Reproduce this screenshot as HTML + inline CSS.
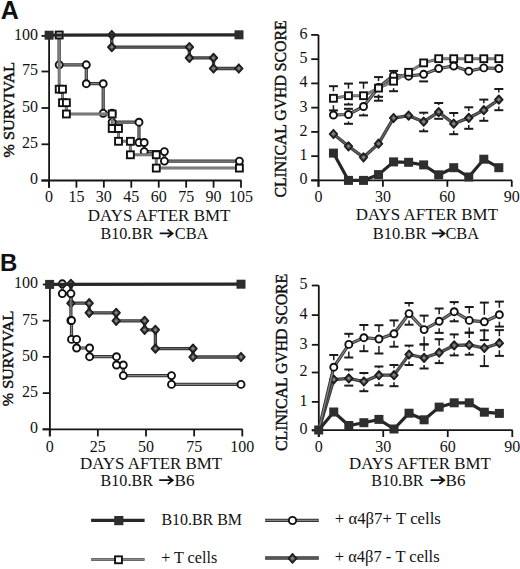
<!DOCTYPE html>
<html><head><meta charset="utf-8"><style>
html,body{margin:0;padding:0;background:#fff;}
svg{display:block;}
text{font-family:"Liberation Serif", serif;fill:#111;}
</style></head><body>
<svg width="520" height="569" viewBox="0 0 520 569">
<rect width="520" height="569" fill="#fff"/>
<line x1="49.10" y1="35.50" x2="49.10" y2="187.70" stroke="#151515" stroke-width="1.8" stroke-linecap="butt"/>
<line x1="41.50" y1="35.90" x2="49.10" y2="35.90" stroke="#151515" stroke-width="1.8" stroke-linecap="butt"/>
<line x1="41.50" y1="71.50" x2="49.10" y2="71.50" stroke="#151515" stroke-width="1.8" stroke-linecap="butt"/>
<line x1="41.50" y1="108.00" x2="49.10" y2="108.00" stroke="#151515" stroke-width="1.8" stroke-linecap="butt"/>
<line x1="41.50" y1="144.30" x2="49.10" y2="144.30" stroke="#151515" stroke-width="1.8" stroke-linecap="butt"/>
<line x1="41.50" y1="180.50" x2="49.10" y2="180.50" stroke="#151515" stroke-width="1.8" stroke-linecap="butt"/>
<line x1="41.50" y1="180.50" x2="241.50" y2="180.50" stroke="#151515" stroke-width="1.8" stroke-linecap="butt"/>
<line x1="49.00" y1="180.50" x2="49.00" y2="187.70" stroke="#151515" stroke-width="1.8" stroke-linecap="butt"/>
<line x1="76.43" y1="180.50" x2="76.43" y2="187.70" stroke="#151515" stroke-width="1.8" stroke-linecap="butt"/>
<line x1="103.86" y1="180.50" x2="103.86" y2="187.70" stroke="#151515" stroke-width="1.8" stroke-linecap="butt"/>
<line x1="131.29" y1="180.50" x2="131.29" y2="187.70" stroke="#151515" stroke-width="1.8" stroke-linecap="butt"/>
<line x1="158.72" y1="180.50" x2="158.72" y2="187.70" stroke="#151515" stroke-width="1.8" stroke-linecap="butt"/>
<line x1="186.15" y1="180.50" x2="186.15" y2="187.70" stroke="#151515" stroke-width="1.8" stroke-linecap="butt"/>
<line x1="213.58" y1="180.50" x2="213.58" y2="187.70" stroke="#151515" stroke-width="1.8" stroke-linecap="butt"/>
<line x1="241.01" y1="180.50" x2="241.01" y2="187.70" stroke="#151515" stroke-width="1.8" stroke-linecap="butt"/>
<line x1="318.50" y1="34.90" x2="318.50" y2="186.80" stroke="#151515" stroke-width="1.8" stroke-linecap="butt"/>
<line x1="311.20" y1="180.40" x2="318.50" y2="180.40" stroke="#151515" stroke-width="1.8" stroke-linecap="butt"/>
<line x1="311.20" y1="156.15" x2="318.50" y2="156.15" stroke="#151515" stroke-width="1.8" stroke-linecap="butt"/>
<line x1="311.20" y1="131.90" x2="318.50" y2="131.90" stroke="#151515" stroke-width="1.8" stroke-linecap="butt"/>
<line x1="311.20" y1="107.65" x2="318.50" y2="107.65" stroke="#151515" stroke-width="1.8" stroke-linecap="butt"/>
<line x1="311.20" y1="83.40" x2="318.50" y2="83.40" stroke="#151515" stroke-width="1.8" stroke-linecap="butt"/>
<line x1="311.20" y1="59.15" x2="318.50" y2="59.15" stroke="#151515" stroke-width="1.8" stroke-linecap="butt"/>
<line x1="311.20" y1="34.90" x2="318.50" y2="34.90" stroke="#151515" stroke-width="1.8" stroke-linecap="butt"/>
<line x1="311.20" y1="180.40" x2="512.00" y2="180.40" stroke="#151515" stroke-width="1.8" stroke-linecap="butt"/>
<line x1="318.50" y1="180.40" x2="318.50" y2="186.80" stroke="#151515" stroke-width="1.8" stroke-linecap="butt"/>
<line x1="382.93" y1="180.40" x2="382.93" y2="186.80" stroke="#151515" stroke-width="1.8" stroke-linecap="butt"/>
<line x1="447.36" y1="180.40" x2="447.36" y2="186.80" stroke="#151515" stroke-width="1.8" stroke-linecap="butt"/>
<line x1="511.79" y1="180.40" x2="511.79" y2="186.80" stroke="#151515" stroke-width="1.8" stroke-linecap="butt"/>
<line x1="49.90" y1="284.20" x2="49.90" y2="436.20" stroke="#151515" stroke-width="1.8" stroke-linecap="butt"/>
<line x1="42.80" y1="429.30" x2="49.90" y2="429.30" stroke="#151515" stroke-width="1.8" stroke-linecap="butt"/>
<line x1="42.80" y1="393.10" x2="49.90" y2="393.10" stroke="#151515" stroke-width="1.8" stroke-linecap="butt"/>
<line x1="42.80" y1="356.90" x2="49.90" y2="356.90" stroke="#151515" stroke-width="1.8" stroke-linecap="butt"/>
<line x1="42.80" y1="320.70" x2="49.90" y2="320.70" stroke="#151515" stroke-width="1.8" stroke-linecap="butt"/>
<line x1="42.80" y1="284.50" x2="49.90" y2="284.50" stroke="#151515" stroke-width="1.8" stroke-linecap="butt"/>
<line x1="42.50" y1="429.30" x2="242.60" y2="429.30" stroke="#151515" stroke-width="1.8" stroke-linecap="butt"/>
<line x1="49.70" y1="429.30" x2="49.70" y2="436.40" stroke="#151515" stroke-width="1.8" stroke-linecap="butt"/>
<line x1="97.85" y1="429.30" x2="97.85" y2="436.40" stroke="#151515" stroke-width="1.8" stroke-linecap="butt"/>
<line x1="146.00" y1="429.30" x2="146.00" y2="436.40" stroke="#151515" stroke-width="1.8" stroke-linecap="butt"/>
<line x1="194.15" y1="429.30" x2="194.15" y2="436.40" stroke="#151515" stroke-width="1.8" stroke-linecap="butt"/>
<line x1="242.30" y1="429.30" x2="242.30" y2="436.40" stroke="#151515" stroke-width="1.8" stroke-linecap="butt"/>
<line x1="318.80" y1="285.40" x2="318.80" y2="437.00" stroke="#151515" stroke-width="1.8" stroke-linecap="butt"/>
<line x1="311.80" y1="430.50" x2="318.80" y2="430.50" stroke="#151515" stroke-width="1.8" stroke-linecap="butt"/>
<line x1="311.80" y1="401.90" x2="318.80" y2="401.90" stroke="#151515" stroke-width="1.8" stroke-linecap="butt"/>
<line x1="311.80" y1="372.50" x2="318.80" y2="372.50" stroke="#151515" stroke-width="1.8" stroke-linecap="butt"/>
<line x1="311.80" y1="344.80" x2="318.80" y2="344.80" stroke="#151515" stroke-width="1.8" stroke-linecap="butt"/>
<line x1="311.80" y1="315.10" x2="318.80" y2="315.10" stroke="#151515" stroke-width="1.8" stroke-linecap="butt"/>
<line x1="311.80" y1="285.50" x2="318.80" y2="285.50" stroke="#151515" stroke-width="1.8" stroke-linecap="butt"/>
<line x1="311.80" y1="430.20" x2="512.60" y2="430.20" stroke="#151515" stroke-width="1.8" stroke-linecap="butt"/>
<line x1="318.70" y1="430.20" x2="318.70" y2="437.00" stroke="#151515" stroke-width="1.8" stroke-linecap="butt"/>
<line x1="383.23" y1="430.20" x2="383.23" y2="437.00" stroke="#151515" stroke-width="1.8" stroke-linecap="butt"/>
<line x1="447.76" y1="430.20" x2="447.76" y2="437.00" stroke="#151515" stroke-width="1.8" stroke-linecap="butt"/>
<line x1="512.29" y1="430.20" x2="512.29" y2="437.00" stroke="#151515" stroke-width="1.8" stroke-linecap="butt"/>
<polyline points="111.80,35.00 111.80,47.10 189.40,47.10 189.40,57.90 213.50,57.90 213.50,68.50 238.80,68.50" fill="none" stroke="#363636" stroke-width="3.3" stroke-linejoin="miter"/>
<polyline points="111.80,35.00 111.80,47.10 189.40,47.10 189.40,57.90 213.50,57.90 213.50,68.50 238.80,68.50" fill="none" stroke="#626262" stroke-width="1.4" stroke-linejoin="miter"/>
<path d="M111.80 30.71L115.70 35.00L111.80 39.29L107.90 35.00Z" fill="#4c4c4c" stroke="#1c1c1c" stroke-width="1.6" stroke-linejoin="round"/>
<circle cx="111.80" cy="35.00" r="1.4" fill="#858585"/>
<path d="M111.80 42.81L115.70 47.10L111.80 51.39L107.90 47.10Z" fill="#4c4c4c" stroke="#1c1c1c" stroke-width="1.6" stroke-linejoin="round"/>
<circle cx="111.80" cy="47.10" r="1.4" fill="#858585"/>
<path d="M189.40 42.81L193.30 47.10L189.40 51.39L185.50 47.10Z" fill="#4c4c4c" stroke="#1c1c1c" stroke-width="1.6" stroke-linejoin="round"/>
<circle cx="189.40" cy="47.10" r="1.4" fill="#858585"/>
<path d="M189.40 53.61L193.30 57.90L189.40 62.19L185.50 57.90Z" fill="#4c4c4c" stroke="#1c1c1c" stroke-width="1.6" stroke-linejoin="round"/>
<circle cx="189.40" cy="57.90" r="1.4" fill="#858585"/>
<path d="M213.50 53.61L217.40 57.90L213.50 62.19L209.60 57.90Z" fill="#4c4c4c" stroke="#1c1c1c" stroke-width="1.6" stroke-linejoin="round"/>
<circle cx="213.50" cy="57.90" r="1.4" fill="#858585"/>
<path d="M213.50 64.21L217.40 68.50L213.50 72.79L209.60 68.50Z" fill="#4c4c4c" stroke="#1c1c1c" stroke-width="1.6" stroke-linejoin="round"/>
<circle cx="213.50" cy="68.50" r="1.4" fill="#858585"/>
<path d="M238.80 64.21L242.70 68.50L238.80 72.79L234.90 68.50Z" fill="#4c4c4c" stroke="#1c1c1c" stroke-width="1.6" stroke-linejoin="round"/>
<circle cx="238.80" cy="68.50" r="1.4" fill="#858585"/>
<polyline points="59.20,35.00 59.20,64.80 86.30,64.80 86.30,83.70 103.20,83.70 103.20,113.30 112.10,113.30 112.10,122.20 139.00,122.20 139.00,142.50 144.20,142.50 144.20,151.60 164.40,151.60 164.40,161.10 239.40,161.10" fill="none" stroke="#333" stroke-width="3.2" stroke-linejoin="miter"/>
<polyline points="59.20,35.00 59.20,64.80 86.30,64.80 86.30,83.70 103.20,83.70 103.20,113.30 112.10,113.30 112.10,122.20 139.00,122.20 139.00,142.50 144.20,142.50 144.20,151.60 164.40,151.60 164.40,161.10 239.40,161.10" fill="none" stroke="#858585" stroke-width="1.3" stroke-linejoin="miter"/>
<circle cx="59.20" cy="64.80" r="3.50" fill="#fff" stroke="#111" stroke-width="1.9"/>
<circle cx="86.30" cy="64.80" r="3.50" fill="#fff" stroke="#111" stroke-width="1.9"/>
<circle cx="86.30" cy="83.70" r="3.50" fill="#fff" stroke="#111" stroke-width="1.9"/>
<circle cx="103.20" cy="83.70" r="3.50" fill="#fff" stroke="#111" stroke-width="1.9"/>
<circle cx="103.20" cy="113.30" r="3.50" fill="#fff" stroke="#111" stroke-width="1.9"/>
<circle cx="112.10" cy="113.30" r="3.50" fill="#fff" stroke="#111" stroke-width="1.9"/>
<circle cx="112.10" cy="122.20" r="3.50" fill="#fff" stroke="#111" stroke-width="1.9"/>
<circle cx="139.00" cy="122.20" r="3.50" fill="#fff" stroke="#111" stroke-width="1.9"/>
<circle cx="139.00" cy="142.50" r="3.50" fill="#fff" stroke="#111" stroke-width="1.9"/>
<circle cx="144.20" cy="142.50" r="3.50" fill="#fff" stroke="#111" stroke-width="1.9"/>
<circle cx="144.20" cy="151.60" r="3.50" fill="#fff" stroke="#111" stroke-width="1.9"/>
<circle cx="164.40" cy="151.60" r="3.50" fill="#fff" stroke="#111" stroke-width="1.9"/>
<circle cx="164.40" cy="161.10" r="3.50" fill="#fff" stroke="#111" stroke-width="1.9"/>
<circle cx="239.40" cy="161.10" r="3.50" fill="#fff" stroke="#111" stroke-width="1.9"/>
<polyline points="59.20,35.00 59.20,89.20 62.50,89.20 62.50,102.70 66.40,102.70 66.40,114.00 112.20,114.00 112.20,128.50 118.50,128.50 118.50,141.30 130.40,141.30 130.40,154.80 156.30,154.80 156.30,168.10 239.40,168.10" fill="none" stroke="#6a6a6a" stroke-width="3.0" stroke-linejoin="miter"/>
<polyline points="59.20,35.00 59.20,89.20 62.50,89.20 62.50,102.70 66.40,102.70 66.40,114.00 112.20,114.00 112.20,128.50 118.50,128.50 118.50,141.30 130.40,141.30 130.40,154.80 156.30,154.80 156.30,168.10 239.40,168.10" fill="none" stroke="#888" stroke-width="1.2" stroke-linejoin="miter"/>
<rect x="55.75" y="31.55" width="6.90" height="6.90" fill="#fff" stroke="#111" stroke-width="1.9"/>
<rect x="55.75" y="85.75" width="6.90" height="6.90" fill="#fff" stroke="#111" stroke-width="1.9"/>
<rect x="59.05" y="85.75" width="6.90" height="6.90" fill="#fff" stroke="#111" stroke-width="1.9"/>
<rect x="59.05" y="99.25" width="6.90" height="6.90" fill="#fff" stroke="#111" stroke-width="1.9"/>
<rect x="62.95" y="99.25" width="6.90" height="6.90" fill="#fff" stroke="#111" stroke-width="1.9"/>
<rect x="62.95" y="110.55" width="6.90" height="6.90" fill="#fff" stroke="#111" stroke-width="1.9"/>
<rect x="108.75" y="110.55" width="6.90" height="6.90" fill="#fff" stroke="#111" stroke-width="1.9"/>
<rect x="108.75" y="125.05" width="6.90" height="6.90" fill="#fff" stroke="#111" stroke-width="1.9"/>
<rect x="115.05" y="125.05" width="6.90" height="6.90" fill="#fff" stroke="#111" stroke-width="1.9"/>
<rect x="115.05" y="137.85" width="6.90" height="6.90" fill="#fff" stroke="#111" stroke-width="1.9"/>
<rect x="126.95" y="137.85" width="6.90" height="6.90" fill="#fff" stroke="#111" stroke-width="1.9"/>
<rect x="126.95" y="151.35" width="6.90" height="6.90" fill="#fff" stroke="#111" stroke-width="1.9"/>
<rect x="152.85" y="151.35" width="6.90" height="6.90" fill="#fff" stroke="#111" stroke-width="1.9"/>
<rect x="152.85" y="164.65" width="6.90" height="6.90" fill="#fff" stroke="#111" stroke-width="1.9"/>
<rect x="235.95" y="164.65" width="6.90" height="6.90" fill="#fff" stroke="#111" stroke-width="1.9"/>
<polyline points="49.10,35.20 239.00,34.80" fill="none" stroke="#262626" stroke-width="3.2" stroke-linejoin="miter"/>
<rect x="44.60" y="30.70" width="9.0" height="9.0" fill="#2e2e2e"/>
<rect x="234.50" y="30.30" width="9.0" height="9.0" fill="#2e2e2e"/>
<polyline points="333.44,134.00 348.47,146.30 363.51,157.30 378.54,143.70 393.58,118.00 408.62,115.60 423.65,121.70 438.69,112.10 453.72,123.70 468.76,117.90 483.80,110.20 498.83,99.60" fill="none" stroke="#363636" stroke-width="3.3" stroke-linejoin="miter"/>
<polyline points="333.44,134.00 348.47,146.30 363.51,157.30 378.54,143.70 393.58,118.00 408.62,115.60 423.65,121.70 438.69,112.10 453.72,123.70 468.76,117.90 483.80,110.20 498.83,99.60" fill="none" stroke="#626262" stroke-width="1.4" stroke-linejoin="miter"/>
<line x1="423.65" y1="114.70" x2="423.65" y2="112.70" stroke="#1a1a1a" stroke-width="1.5"/>
<line x1="419.15" y1="112.70" x2="428.15" y2="112.70" stroke="#1a1a1a" stroke-width="2.0"/>
<line x1="423.65" y1="128.70" x2="423.65" y2="131.30" stroke="#1a1a1a" stroke-width="1.5"/>
<line x1="419.15" y1="131.30" x2="428.15" y2="131.30" stroke="#1a1a1a" stroke-width="2.0"/>
<line x1="438.69" y1="105.10" x2="438.69" y2="103.00" stroke="#1a1a1a" stroke-width="1.5"/>
<line x1="434.19" y1="103.00" x2="443.19" y2="103.00" stroke="#1a1a1a" stroke-width="2.0"/>
<line x1="434.19" y1="118.80" x2="443.19" y2="118.80" stroke="#1a1a1a" stroke-width="2.0"/>
<line x1="453.72" y1="116.70" x2="453.72" y2="113.00" stroke="#1a1a1a" stroke-width="1.5"/>
<line x1="449.22" y1="113.00" x2="458.22" y2="113.00" stroke="#1a1a1a" stroke-width="2.0"/>
<line x1="453.72" y1="130.70" x2="453.72" y2="134.20" stroke="#1a1a1a" stroke-width="1.5"/>
<line x1="449.22" y1="134.20" x2="458.22" y2="134.20" stroke="#1a1a1a" stroke-width="2.0"/>
<line x1="468.76" y1="110.90" x2="468.76" y2="107.30" stroke="#1a1a1a" stroke-width="1.5"/>
<line x1="464.26" y1="107.30" x2="473.26" y2="107.30" stroke="#1a1a1a" stroke-width="2.0"/>
<line x1="468.76" y1="124.90" x2="468.76" y2="128.80" stroke="#1a1a1a" stroke-width="1.5"/>
<line x1="464.26" y1="128.80" x2="473.26" y2="128.80" stroke="#1a1a1a" stroke-width="2.0"/>
<line x1="483.80" y1="103.20" x2="483.80" y2="99.60" stroke="#1a1a1a" stroke-width="1.5"/>
<line x1="479.30" y1="99.60" x2="488.30" y2="99.60" stroke="#1a1a1a" stroke-width="2.0"/>
<line x1="483.80" y1="117.20" x2="483.80" y2="120.80" stroke="#1a1a1a" stroke-width="1.5"/>
<line x1="479.30" y1="120.80" x2="488.30" y2="120.80" stroke="#1a1a1a" stroke-width="2.0"/>
<line x1="498.83" y1="92.60" x2="498.83" y2="89.00" stroke="#1a1a1a" stroke-width="1.5"/>
<line x1="494.33" y1="89.00" x2="503.33" y2="89.00" stroke="#1a1a1a" stroke-width="2.0"/>
<line x1="498.83" y1="106.60" x2="498.83" y2="110.20" stroke="#1a1a1a" stroke-width="1.5"/>
<line x1="494.33" y1="110.20" x2="503.33" y2="110.20" stroke="#1a1a1a" stroke-width="2.0"/>
<path d="M333.44 129.71L337.34 134.00L333.44 138.29L329.54 134.00Z" fill="#4c4c4c" stroke="#1c1c1c" stroke-width="1.6" stroke-linejoin="round"/>
<circle cx="333.44" cy="134.00" r="1.4" fill="#858585"/>
<path d="M348.47 142.01L352.37 146.30L348.47 150.59L344.57 146.30Z" fill="#4c4c4c" stroke="#1c1c1c" stroke-width="1.6" stroke-linejoin="round"/>
<circle cx="348.47" cy="146.30" r="1.4" fill="#858585"/>
<path d="M363.51 153.01L367.41 157.30L363.51 161.59L359.61 157.30Z" fill="#4c4c4c" stroke="#1c1c1c" stroke-width="1.6" stroke-linejoin="round"/>
<circle cx="363.51" cy="157.30" r="1.4" fill="#858585"/>
<path d="M378.54 139.41L382.44 143.70L378.54 147.99L374.64 143.70Z" fill="#4c4c4c" stroke="#1c1c1c" stroke-width="1.6" stroke-linejoin="round"/>
<circle cx="378.54" cy="143.70" r="1.4" fill="#858585"/>
<path d="M393.58 113.71L397.48 118.00L393.58 122.29L389.68 118.00Z" fill="#4c4c4c" stroke="#1c1c1c" stroke-width="1.6" stroke-linejoin="round"/>
<circle cx="393.58" cy="118.00" r="1.4" fill="#858585"/>
<path d="M408.62 111.31L412.52 115.60L408.62 119.89L404.72 115.60Z" fill="#4c4c4c" stroke="#1c1c1c" stroke-width="1.6" stroke-linejoin="round"/>
<circle cx="408.62" cy="115.60" r="1.4" fill="#858585"/>
<path d="M423.65 117.41L427.55 121.70L423.65 125.99L419.75 121.70Z" fill="#4c4c4c" stroke="#1c1c1c" stroke-width="1.6" stroke-linejoin="round"/>
<circle cx="423.65" cy="121.70" r="1.4" fill="#858585"/>
<path d="M438.69 107.81L442.59 112.10L438.69 116.39L434.79 112.10Z" fill="#4c4c4c" stroke="#1c1c1c" stroke-width="1.6" stroke-linejoin="round"/>
<circle cx="438.69" cy="112.10" r="1.4" fill="#858585"/>
<path d="M453.72 119.41L457.62 123.70L453.72 127.99L449.82 123.70Z" fill="#4c4c4c" stroke="#1c1c1c" stroke-width="1.6" stroke-linejoin="round"/>
<circle cx="453.72" cy="123.70" r="1.4" fill="#858585"/>
<path d="M468.76 113.61L472.66 117.90L468.76 122.19L464.86 117.90Z" fill="#4c4c4c" stroke="#1c1c1c" stroke-width="1.6" stroke-linejoin="round"/>
<circle cx="468.76" cy="117.90" r="1.4" fill="#858585"/>
<path d="M483.80 105.91L487.70 110.20L483.80 114.49L479.90 110.20Z" fill="#4c4c4c" stroke="#1c1c1c" stroke-width="1.6" stroke-linejoin="round"/>
<circle cx="483.80" cy="110.20" r="1.4" fill="#858585"/>
<path d="M498.83 95.31L502.73 99.60L498.83 103.89L494.93 99.60Z" fill="#4c4c4c" stroke="#1c1c1c" stroke-width="1.6" stroke-linejoin="round"/>
<circle cx="498.83" cy="99.60" r="1.4" fill="#858585"/>
<polyline points="333.44,115.00 348.47,114.50 363.51,106.50 378.54,87.50 393.58,75.50 408.62,76.20 423.65,74.30 438.69,68.50 453.72,66.00 468.76,71.20 483.80,67.90 498.83,68.50" fill="none" stroke="#333" stroke-width="3.2" stroke-linejoin="miter"/>
<polyline points="333.44,115.00 348.47,114.50 363.51,106.50 378.54,87.50 393.58,75.50 408.62,76.20 423.65,74.30 438.69,68.50 453.72,66.00 468.76,71.20 483.80,67.90 498.83,68.50" fill="none" stroke="#858585" stroke-width="1.3" stroke-linejoin="miter"/>
<line x1="343.97" y1="108.80" x2="352.97" y2="108.80" stroke="#1a1a1a" stroke-width="2.0"/>
<line x1="348.47" y1="121.50" x2="348.47" y2="123.80" stroke="#1a1a1a" stroke-width="1.5"/>
<line x1="343.97" y1="123.80" x2="352.97" y2="123.80" stroke="#1a1a1a" stroke-width="2.0"/>
<line x1="363.51" y1="113.50" x2="363.51" y2="115.40" stroke="#1a1a1a" stroke-width="1.5"/>
<line x1="359.01" y1="115.40" x2="368.01" y2="115.40" stroke="#1a1a1a" stroke-width="2.0"/>
<line x1="378.54" y1="94.50" x2="378.54" y2="96.80" stroke="#1a1a1a" stroke-width="1.5"/>
<line x1="374.04" y1="96.80" x2="383.04" y2="96.80" stroke="#1a1a1a" stroke-width="2.0"/>
<line x1="419.15" y1="81.40" x2="428.15" y2="81.40" stroke="#1a1a1a" stroke-width="2.0"/>
<circle cx="333.44" cy="115.00" r="3.50" fill="#fff" stroke="#111" stroke-width="1.9"/>
<circle cx="348.47" cy="114.50" r="3.50" fill="#fff" stroke="#111" stroke-width="1.9"/>
<circle cx="363.51" cy="106.50" r="3.50" fill="#fff" stroke="#111" stroke-width="1.9"/>
<circle cx="378.54" cy="87.50" r="3.50" fill="#fff" stroke="#111" stroke-width="1.9"/>
<circle cx="393.58" cy="75.50" r="3.50" fill="#fff" stroke="#111" stroke-width="1.9"/>
<circle cx="408.62" cy="76.20" r="3.50" fill="#fff" stroke="#111" stroke-width="1.9"/>
<circle cx="423.65" cy="74.30" r="3.50" fill="#fff" stroke="#111" stroke-width="1.9"/>
<circle cx="438.69" cy="68.50" r="3.50" fill="#fff" stroke="#111" stroke-width="1.9"/>
<circle cx="453.72" cy="66.00" r="3.50" fill="#fff" stroke="#111" stroke-width="1.9"/>
<circle cx="468.76" cy="71.20" r="3.50" fill="#fff" stroke="#111" stroke-width="1.9"/>
<circle cx="483.80" cy="67.90" r="3.50" fill="#fff" stroke="#111" stroke-width="1.9"/>
<circle cx="498.83" cy="68.50" r="3.50" fill="#fff" stroke="#111" stroke-width="1.9"/>
<polyline points="333.44,98.30 348.47,95.70 363.51,95.70 378.54,88.10 393.58,81.20 408.62,72.30 423.65,62.90 438.69,58.70 453.72,58.70 468.76,58.70 483.80,58.70 498.83,58.70" fill="none" stroke="#6a6a6a" stroke-width="3.0" stroke-linejoin="miter"/>
<polyline points="333.44,98.30 348.47,95.70 363.51,95.70 378.54,88.10 393.58,81.20 408.62,72.30 423.65,62.90 438.69,58.70 453.72,58.70 468.76,58.70 483.80,58.70 498.83,58.70" fill="none" stroke="#888" stroke-width="1.2" stroke-linejoin="miter"/>
<line x1="333.44" y1="91.30" x2="333.44" y2="86.20" stroke="#1a1a1a" stroke-width="1.5"/>
<line x1="328.94" y1="86.20" x2="337.94" y2="86.20" stroke="#1a1a1a" stroke-width="2.0"/>
<line x1="333.44" y1="105.30" x2="333.44" y2="110.40" stroke="#1a1a1a" stroke-width="1.5"/>
<line x1="328.94" y1="110.40" x2="337.94" y2="110.40" stroke="#1a1a1a" stroke-width="2.0"/>
<line x1="348.47" y1="88.70" x2="348.47" y2="83.60" stroke="#1a1a1a" stroke-width="1.5"/>
<line x1="343.97" y1="83.60" x2="352.97" y2="83.60" stroke="#1a1a1a" stroke-width="2.0"/>
<line x1="348.47" y1="102.70" x2="348.47" y2="104.50" stroke="#1a1a1a" stroke-width="1.5"/>
<line x1="343.97" y1="104.50" x2="352.97" y2="104.50" stroke="#1a1a1a" stroke-width="2.0"/>
<line x1="363.51" y1="88.70" x2="363.51" y2="82.60" stroke="#1a1a1a" stroke-width="1.5"/>
<line x1="359.01" y1="82.60" x2="368.01" y2="82.60" stroke="#1a1a1a" stroke-width="2.0"/>
<line x1="378.54" y1="81.10" x2="378.54" y2="77.10" stroke="#1a1a1a" stroke-width="1.5"/>
<line x1="374.04" y1="77.10" x2="383.04" y2="77.10" stroke="#1a1a1a" stroke-width="2.0"/>
<line x1="378.54" y1="95.10" x2="378.54" y2="100.70" stroke="#1a1a1a" stroke-width="1.5"/>
<line x1="374.04" y1="100.70" x2="383.04" y2="100.70" stroke="#1a1a1a" stroke-width="2.0"/>
<line x1="393.58" y1="74.20" x2="393.58" y2="70.90" stroke="#1a1a1a" stroke-width="1.5"/>
<line x1="389.08" y1="70.90" x2="398.08" y2="70.90" stroke="#1a1a1a" stroke-width="2.0"/>
<line x1="393.58" y1="88.20" x2="393.58" y2="91.20" stroke="#1a1a1a" stroke-width="1.5"/>
<line x1="389.08" y1="91.20" x2="398.08" y2="91.20" stroke="#1a1a1a" stroke-width="2.0"/>
<rect x="329.99" y="94.85" width="6.90" height="6.90" fill="#fff" stroke="#111" stroke-width="1.9"/>
<rect x="345.02" y="92.25" width="6.90" height="6.90" fill="#fff" stroke="#111" stroke-width="1.9"/>
<rect x="360.06" y="92.25" width="6.90" height="6.90" fill="#fff" stroke="#111" stroke-width="1.9"/>
<rect x="375.09" y="84.65" width="6.90" height="6.90" fill="#fff" stroke="#111" stroke-width="1.9"/>
<rect x="390.13" y="77.75" width="6.90" height="6.90" fill="#fff" stroke="#111" stroke-width="1.9"/>
<rect x="405.17" y="68.85" width="6.90" height="6.90" fill="#fff" stroke="#111" stroke-width="1.9"/>
<rect x="420.20" y="59.45" width="6.90" height="6.90" fill="#fff" stroke="#111" stroke-width="1.9"/>
<rect x="435.24" y="55.25" width="6.90" height="6.90" fill="#fff" stroke="#111" stroke-width="1.9"/>
<rect x="450.27" y="55.25" width="6.90" height="6.90" fill="#fff" stroke="#111" stroke-width="1.9"/>
<rect x="465.31" y="55.25" width="6.90" height="6.90" fill="#fff" stroke="#111" stroke-width="1.9"/>
<rect x="480.35" y="55.25" width="6.90" height="6.90" fill="#fff" stroke="#111" stroke-width="1.9"/>
<rect x="495.38" y="55.25" width="6.90" height="6.90" fill="#fff" stroke="#111" stroke-width="1.9"/>
<polyline points="333.44,153.10 348.47,180.40 363.51,180.40 378.54,174.60 393.58,161.90 408.62,162.30 423.65,164.90 438.69,174.80 453.72,167.70 468.76,177.00 483.80,159.20 498.83,167.70" fill="none" stroke="#262626" stroke-width="3.2" stroke-linejoin="miter"/>
<rect x="328.94" y="148.60" width="9.0" height="9.0" fill="#2e2e2e"/>
<rect x="343.97" y="175.90" width="9.0" height="9.0" fill="#2e2e2e"/>
<rect x="359.01" y="175.90" width="9.0" height="9.0" fill="#2e2e2e"/>
<rect x="374.04" y="170.10" width="9.0" height="9.0" fill="#2e2e2e"/>
<rect x="389.08" y="157.40" width="9.0" height="9.0" fill="#2e2e2e"/>
<rect x="404.12" y="157.80" width="9.0" height="9.0" fill="#2e2e2e"/>
<rect x="419.15" y="160.40" width="9.0" height="9.0" fill="#2e2e2e"/>
<rect x="434.19" y="170.30" width="9.0" height="9.0" fill="#2e2e2e"/>
<rect x="449.22" y="163.20" width="9.0" height="9.0" fill="#2e2e2e"/>
<rect x="464.26" y="172.50" width="9.0" height="9.0" fill="#2e2e2e"/>
<rect x="479.30" y="154.70" width="9.0" height="9.0" fill="#2e2e2e"/>
<rect x="494.33" y="163.20" width="9.0" height="9.0" fill="#2e2e2e"/>
<polyline points="70.90,283.80 70.90,303.20 89.20,303.20 89.20,312.80 116.20,312.80 116.20,320.80 144.60,320.80 144.60,329.80 155.40,329.80 155.40,348.60 193.00,348.60 193.00,357.00 241.00,357.00" fill="none" stroke="#363636" stroke-width="3.3" stroke-linejoin="miter"/>
<polyline points="70.90,283.80 70.90,303.20 89.20,303.20 89.20,312.80 116.20,312.80 116.20,320.80 144.60,320.80 144.60,329.80 155.40,329.80 155.40,348.60 193.00,348.60 193.00,357.00 241.00,357.00" fill="none" stroke="#626262" stroke-width="1.4" stroke-linejoin="miter"/>
<path d="M70.90 279.51L74.80 283.80L70.90 288.09L67.00 283.80Z" fill="#4c4c4c" stroke="#1c1c1c" stroke-width="1.6" stroke-linejoin="round"/>
<circle cx="70.90" cy="283.80" r="1.4" fill="#858585"/>
<path d="M70.90 298.91L74.80 303.20L70.90 307.49L67.00 303.20Z" fill="#4c4c4c" stroke="#1c1c1c" stroke-width="1.6" stroke-linejoin="round"/>
<circle cx="70.90" cy="303.20" r="1.4" fill="#858585"/>
<path d="M89.20 298.91L93.10 303.20L89.20 307.49L85.30 303.20Z" fill="#4c4c4c" stroke="#1c1c1c" stroke-width="1.6" stroke-linejoin="round"/>
<circle cx="89.20" cy="303.20" r="1.4" fill="#858585"/>
<path d="M89.20 308.51L93.10 312.80L89.20 317.09L85.30 312.80Z" fill="#4c4c4c" stroke="#1c1c1c" stroke-width="1.6" stroke-linejoin="round"/>
<circle cx="89.20" cy="312.80" r="1.4" fill="#858585"/>
<path d="M116.20 308.51L120.10 312.80L116.20 317.09L112.30 312.80Z" fill="#4c4c4c" stroke="#1c1c1c" stroke-width="1.6" stroke-linejoin="round"/>
<circle cx="116.20" cy="312.80" r="1.4" fill="#858585"/>
<path d="M116.20 316.51L120.10 320.80L116.20 325.09L112.30 320.80Z" fill="#4c4c4c" stroke="#1c1c1c" stroke-width="1.6" stroke-linejoin="round"/>
<circle cx="116.20" cy="320.80" r="1.4" fill="#858585"/>
<path d="M144.60 316.51L148.50 320.80L144.60 325.09L140.70 320.80Z" fill="#4c4c4c" stroke="#1c1c1c" stroke-width="1.6" stroke-linejoin="round"/>
<circle cx="144.60" cy="320.80" r="1.4" fill="#858585"/>
<path d="M144.60 325.51L148.50 329.80L144.60 334.09L140.70 329.80Z" fill="#4c4c4c" stroke="#1c1c1c" stroke-width="1.6" stroke-linejoin="round"/>
<circle cx="144.60" cy="329.80" r="1.4" fill="#858585"/>
<path d="M155.40 325.51L159.30 329.80L155.40 334.09L151.50 329.80Z" fill="#4c4c4c" stroke="#1c1c1c" stroke-width="1.6" stroke-linejoin="round"/>
<circle cx="155.40" cy="329.80" r="1.4" fill="#858585"/>
<path d="M155.40 344.31L159.30 348.60L155.40 352.89L151.50 348.60Z" fill="#4c4c4c" stroke="#1c1c1c" stroke-width="1.6" stroke-linejoin="round"/>
<circle cx="155.40" cy="348.60" r="1.4" fill="#858585"/>
<path d="M193.00 344.31L196.90 348.60L193.00 352.89L189.10 348.60Z" fill="#4c4c4c" stroke="#1c1c1c" stroke-width="1.6" stroke-linejoin="round"/>
<circle cx="193.00" cy="348.60" r="1.4" fill="#858585"/>
<path d="M193.00 352.71L196.90 357.00L193.00 361.29L189.10 357.00Z" fill="#4c4c4c" stroke="#1c1c1c" stroke-width="1.6" stroke-linejoin="round"/>
<circle cx="193.00" cy="357.00" r="1.4" fill="#858585"/>
<path d="M241.00 352.71L244.90 357.00L241.00 361.29L237.10 357.00Z" fill="#4c4c4c" stroke="#1c1c1c" stroke-width="1.6" stroke-linejoin="round"/>
<circle cx="241.00" cy="357.00" r="1.4" fill="#858585"/>
<polyline points="62.30,283.80 62.30,293.60 70.90,293.60 70.90,320.50 71.50,320.50 71.50,339.40 76.60,339.40 76.60,348.00 89.60,348.00 89.60,356.70 116.50,356.70 116.50,365.00 123.30,365.00 123.30,375.60 171.50,375.60 171.50,384.40 241.00,384.40" fill="none" stroke="#333" stroke-width="3.2" stroke-linejoin="miter"/>
<polyline points="62.30,283.80 62.30,293.60 70.90,293.60 70.90,320.50 71.50,320.50 71.50,339.40 76.60,339.40 76.60,348.00 89.60,348.00 89.60,356.70 116.50,356.70 116.50,365.00 123.30,365.00 123.30,375.60 171.50,375.60 171.50,384.40 241.00,384.40" fill="none" stroke="#858585" stroke-width="1.3" stroke-linejoin="miter"/>
<circle cx="62.30" cy="283.80" r="3.50" fill="#fff" stroke="#111" stroke-width="1.9"/>
<circle cx="62.30" cy="293.60" r="3.50" fill="#fff" stroke="#111" stroke-width="1.9"/>
<circle cx="70.90" cy="293.60" r="3.50" fill="#fff" stroke="#111" stroke-width="1.9"/>
<circle cx="70.90" cy="320.50" r="3.50" fill="#fff" stroke="#111" stroke-width="1.9"/>
<circle cx="71.50" cy="320.50" r="3.50" fill="#fff" stroke="#111" stroke-width="1.9"/>
<circle cx="71.50" cy="339.40" r="3.50" fill="#fff" stroke="#111" stroke-width="1.9"/>
<circle cx="76.60" cy="339.40" r="3.50" fill="#fff" stroke="#111" stroke-width="1.9"/>
<circle cx="76.60" cy="348.00" r="3.50" fill="#fff" stroke="#111" stroke-width="1.9"/>
<circle cx="89.60" cy="348.00" r="3.50" fill="#fff" stroke="#111" stroke-width="1.9"/>
<circle cx="89.60" cy="356.70" r="3.50" fill="#fff" stroke="#111" stroke-width="1.9"/>
<circle cx="116.50" cy="356.70" r="3.50" fill="#fff" stroke="#111" stroke-width="1.9"/>
<circle cx="116.50" cy="365.00" r="3.50" fill="#fff" stroke="#111" stroke-width="1.9"/>
<circle cx="123.30" cy="365.00" r="3.50" fill="#fff" stroke="#111" stroke-width="1.9"/>
<circle cx="123.30" cy="375.60" r="3.50" fill="#fff" stroke="#111" stroke-width="1.9"/>
<circle cx="171.50" cy="375.60" r="3.50" fill="#fff" stroke="#111" stroke-width="1.9"/>
<circle cx="171.50" cy="384.40" r="3.50" fill="#fff" stroke="#111" stroke-width="1.9"/>
<circle cx="241.00" cy="384.40" r="3.50" fill="#fff" stroke="#111" stroke-width="1.9"/>
<polyline points="49.60,284.40 241.00,284.20" fill="none" stroke="#262626" stroke-width="3.2" stroke-linejoin="miter"/>
<rect x="45.10" y="279.90" width="9.0" height="9.0" fill="#2e2e2e"/>
<rect x="236.50" y="279.70" width="9.0" height="9.0" fill="#2e2e2e"/>
<polyline points="318.70,430.30 333.76,379.50 348.81,378.40 363.87,381.50 378.93,375.20 393.99,375.20 409.04,354.50 424.10,357.90 439.16,352.70 454.21,345.40 469.27,345.00 484.33,348.00 499.38,343.20" fill="none" stroke="#363636" stroke-width="3.3" stroke-linejoin="miter"/>
<polyline points="318.70,430.30 333.76,379.50 348.81,378.40 363.87,381.50 378.93,375.20 393.99,375.20 409.04,354.50 424.10,357.90 439.16,352.70 454.21,345.40 469.27,345.00 484.33,348.00 499.38,343.20" fill="none" stroke="#626262" stroke-width="1.4" stroke-linejoin="miter"/>
<line x1="348.81" y1="371.40" x2="348.81" y2="369.50" stroke="#1a1a1a" stroke-width="1.5"/>
<line x1="344.31" y1="369.50" x2="353.31" y2="369.50" stroke="#1a1a1a" stroke-width="2.0"/>
<line x1="344.31" y1="385.60" x2="353.31" y2="385.60" stroke="#1a1a1a" stroke-width="2.0"/>
<line x1="363.87" y1="374.50" x2="363.87" y2="373.00" stroke="#1a1a1a" stroke-width="1.5"/>
<line x1="359.37" y1="373.00" x2="368.37" y2="373.00" stroke="#1a1a1a" stroke-width="2.0"/>
<line x1="363.87" y1="388.50" x2="363.87" y2="391.20" stroke="#1a1a1a" stroke-width="1.5"/>
<line x1="359.37" y1="391.20" x2="368.37" y2="391.20" stroke="#1a1a1a" stroke-width="2.0"/>
<line x1="378.93" y1="368.20" x2="378.93" y2="366.50" stroke="#1a1a1a" stroke-width="1.5"/>
<line x1="374.43" y1="366.50" x2="383.43" y2="366.50" stroke="#1a1a1a" stroke-width="2.0"/>
<line x1="378.93" y1="382.20" x2="378.93" y2="385.30" stroke="#1a1a1a" stroke-width="1.5"/>
<line x1="374.43" y1="385.30" x2="383.43" y2="385.30" stroke="#1a1a1a" stroke-width="2.0"/>
<line x1="393.99" y1="368.20" x2="393.99" y2="365.00" stroke="#1a1a1a" stroke-width="1.5"/>
<line x1="389.49" y1="365.00" x2="398.49" y2="365.00" stroke="#1a1a1a" stroke-width="2.0"/>
<line x1="393.99" y1="382.20" x2="393.99" y2="386.20" stroke="#1a1a1a" stroke-width="1.5"/>
<line x1="389.49" y1="386.20" x2="398.49" y2="386.20" stroke="#1a1a1a" stroke-width="2.0"/>
<line x1="409.04" y1="347.50" x2="409.04" y2="345.60" stroke="#1a1a1a" stroke-width="1.5"/>
<line x1="404.54" y1="345.60" x2="413.54" y2="345.60" stroke="#1a1a1a" stroke-width="2.0"/>
<line x1="409.04" y1="361.50" x2="409.04" y2="365.00" stroke="#1a1a1a" stroke-width="1.5"/>
<line x1="404.54" y1="365.00" x2="413.54" y2="365.00" stroke="#1a1a1a" stroke-width="2.0"/>
<line x1="424.10" y1="350.90" x2="424.10" y2="344.40" stroke="#1a1a1a" stroke-width="1.5"/>
<line x1="419.60" y1="344.40" x2="428.60" y2="344.40" stroke="#1a1a1a" stroke-width="2.0"/>
<line x1="424.10" y1="364.90" x2="424.10" y2="368.50" stroke="#1a1a1a" stroke-width="1.5"/>
<line x1="419.60" y1="368.50" x2="428.60" y2="368.50" stroke="#1a1a1a" stroke-width="2.0"/>
<line x1="439.16" y1="345.70" x2="439.16" y2="339.20" stroke="#1a1a1a" stroke-width="1.5"/>
<line x1="434.66" y1="339.20" x2="443.66" y2="339.20" stroke="#1a1a1a" stroke-width="2.0"/>
<line x1="439.16" y1="359.70" x2="439.16" y2="363.10" stroke="#1a1a1a" stroke-width="1.5"/>
<line x1="434.66" y1="363.10" x2="443.66" y2="363.10" stroke="#1a1a1a" stroke-width="2.0"/>
<line x1="454.21" y1="338.40" x2="454.21" y2="334.40" stroke="#1a1a1a" stroke-width="1.5"/>
<line x1="449.71" y1="334.40" x2="458.71" y2="334.40" stroke="#1a1a1a" stroke-width="2.0"/>
<line x1="454.21" y1="352.40" x2="454.21" y2="355.40" stroke="#1a1a1a" stroke-width="1.5"/>
<line x1="449.71" y1="355.40" x2="458.71" y2="355.40" stroke="#1a1a1a" stroke-width="2.0"/>
<line x1="469.27" y1="338.00" x2="469.27" y2="332.70" stroke="#1a1a1a" stroke-width="1.5"/>
<line x1="464.77" y1="332.70" x2="473.77" y2="332.70" stroke="#1a1a1a" stroke-width="2.0"/>
<line x1="469.27" y1="352.00" x2="469.27" y2="354.70" stroke="#1a1a1a" stroke-width="1.5"/>
<line x1="464.77" y1="354.70" x2="473.77" y2="354.70" stroke="#1a1a1a" stroke-width="2.0"/>
<line x1="484.33" y1="341.00" x2="484.33" y2="330.40" stroke="#1a1a1a" stroke-width="1.5"/>
<line x1="479.83" y1="330.40" x2="488.83" y2="330.40" stroke="#1a1a1a" stroke-width="2.0"/>
<line x1="484.33" y1="355.00" x2="484.33" y2="366.10" stroke="#1a1a1a" stroke-width="1.5"/>
<line x1="479.83" y1="366.10" x2="488.83" y2="366.10" stroke="#1a1a1a" stroke-width="2.0"/>
<line x1="499.38" y1="336.20" x2="499.38" y2="330.10" stroke="#1a1a1a" stroke-width="1.5"/>
<line x1="494.88" y1="330.10" x2="503.88" y2="330.10" stroke="#1a1a1a" stroke-width="2.0"/>
<line x1="499.38" y1="350.20" x2="499.38" y2="355.90" stroke="#1a1a1a" stroke-width="1.5"/>
<line x1="494.88" y1="355.90" x2="503.88" y2="355.90" stroke="#1a1a1a" stroke-width="2.0"/>
<path d="M333.76 375.21L337.66 379.50L333.76 383.79L329.86 379.50Z" fill="#4c4c4c" stroke="#1c1c1c" stroke-width="1.6" stroke-linejoin="round"/>
<circle cx="333.76" cy="379.50" r="1.4" fill="#858585"/>
<path d="M348.81 374.11L352.71 378.40L348.81 382.69L344.91 378.40Z" fill="#4c4c4c" stroke="#1c1c1c" stroke-width="1.6" stroke-linejoin="round"/>
<circle cx="348.81" cy="378.40" r="1.4" fill="#858585"/>
<path d="M363.87 377.21L367.77 381.50L363.87 385.79L359.97 381.50Z" fill="#4c4c4c" stroke="#1c1c1c" stroke-width="1.6" stroke-linejoin="round"/>
<circle cx="363.87" cy="381.50" r="1.4" fill="#858585"/>
<path d="M378.93 370.91L382.83 375.20L378.93 379.49L375.03 375.20Z" fill="#4c4c4c" stroke="#1c1c1c" stroke-width="1.6" stroke-linejoin="round"/>
<circle cx="378.93" cy="375.20" r="1.4" fill="#858585"/>
<path d="M393.99 370.91L397.88 375.20L393.99 379.49L390.09 375.20Z" fill="#4c4c4c" stroke="#1c1c1c" stroke-width="1.6" stroke-linejoin="round"/>
<circle cx="393.99" cy="375.20" r="1.4" fill="#858585"/>
<path d="M409.04 350.21L412.94 354.50L409.04 358.79L405.14 354.50Z" fill="#4c4c4c" stroke="#1c1c1c" stroke-width="1.6" stroke-linejoin="round"/>
<circle cx="409.04" cy="354.50" r="1.4" fill="#858585"/>
<path d="M424.10 353.61L428.00 357.90L424.10 362.19L420.20 357.90Z" fill="#4c4c4c" stroke="#1c1c1c" stroke-width="1.6" stroke-linejoin="round"/>
<circle cx="424.10" cy="357.90" r="1.4" fill="#858585"/>
<path d="M439.16 348.41L443.06 352.70L439.16 356.99L435.26 352.70Z" fill="#4c4c4c" stroke="#1c1c1c" stroke-width="1.6" stroke-linejoin="round"/>
<circle cx="439.16" cy="352.70" r="1.4" fill="#858585"/>
<path d="M454.21 341.11L458.11 345.40L454.21 349.69L450.31 345.40Z" fill="#4c4c4c" stroke="#1c1c1c" stroke-width="1.6" stroke-linejoin="round"/>
<circle cx="454.21" cy="345.40" r="1.4" fill="#858585"/>
<path d="M469.27 340.71L473.17 345.00L469.27 349.29L465.37 345.00Z" fill="#4c4c4c" stroke="#1c1c1c" stroke-width="1.6" stroke-linejoin="round"/>
<circle cx="469.27" cy="345.00" r="1.4" fill="#858585"/>
<path d="M484.33 343.71L488.23 348.00L484.33 352.29L480.43 348.00Z" fill="#4c4c4c" stroke="#1c1c1c" stroke-width="1.6" stroke-linejoin="round"/>
<circle cx="484.33" cy="348.00" r="1.4" fill="#858585"/>
<path d="M499.38 338.91L503.28 343.20L499.38 347.49L495.48 343.20Z" fill="#4c4c4c" stroke="#1c1c1c" stroke-width="1.6" stroke-linejoin="round"/>
<circle cx="499.38" cy="343.20" r="1.4" fill="#858585"/>
<polyline points="318.70,430.30 333.76,367.20 348.81,344.40 363.87,337.70 378.93,339.00 393.99,333.80 409.04,313.60 424.10,329.60 439.16,321.30 454.21,311.70 469.27,320.40 484.33,321.80 499.38,314.70" fill="none" stroke="#333" stroke-width="3.2" stroke-linejoin="miter"/>
<polyline points="318.70,430.30 333.76,367.20 348.81,344.40 363.87,337.70 378.93,339.00 393.99,333.80 409.04,313.60 424.10,329.60 439.16,321.30 454.21,311.70 469.27,320.40 484.33,321.80 499.38,314.70" fill="none" stroke="#858585" stroke-width="1.3" stroke-linejoin="miter"/>
<line x1="333.76" y1="360.20" x2="333.76" y2="355.00" stroke="#1a1a1a" stroke-width="1.5"/>
<line x1="329.26" y1="355.00" x2="338.26" y2="355.00" stroke="#1a1a1a" stroke-width="2.0"/>
<line x1="348.81" y1="337.40" x2="348.81" y2="333.80" stroke="#1a1a1a" stroke-width="1.5"/>
<line x1="344.31" y1="333.80" x2="353.31" y2="333.80" stroke="#1a1a1a" stroke-width="2.0"/>
<line x1="348.81" y1="351.40" x2="348.81" y2="357.50" stroke="#1a1a1a" stroke-width="1.5"/>
<line x1="344.31" y1="357.50" x2="353.31" y2="357.50" stroke="#1a1a1a" stroke-width="2.0"/>
<line x1="363.87" y1="330.70" x2="363.87" y2="325.00" stroke="#1a1a1a" stroke-width="1.5"/>
<line x1="359.37" y1="325.00" x2="368.37" y2="325.00" stroke="#1a1a1a" stroke-width="2.0"/>
<line x1="363.87" y1="344.70" x2="363.87" y2="351.20" stroke="#1a1a1a" stroke-width="1.5"/>
<line x1="359.37" y1="351.20" x2="368.37" y2="351.20" stroke="#1a1a1a" stroke-width="2.0"/>
<line x1="378.93" y1="332.00" x2="378.93" y2="325.20" stroke="#1a1a1a" stroke-width="1.5"/>
<line x1="374.43" y1="325.20" x2="383.43" y2="325.20" stroke="#1a1a1a" stroke-width="2.0"/>
<line x1="378.93" y1="346.00" x2="378.93" y2="353.50" stroke="#1a1a1a" stroke-width="1.5"/>
<line x1="374.43" y1="353.50" x2="383.43" y2="353.50" stroke="#1a1a1a" stroke-width="2.0"/>
<line x1="393.99" y1="326.80" x2="393.99" y2="320.40" stroke="#1a1a1a" stroke-width="1.5"/>
<line x1="389.49" y1="320.40" x2="398.49" y2="320.40" stroke="#1a1a1a" stroke-width="2.0"/>
<line x1="393.99" y1="340.80" x2="393.99" y2="346.70" stroke="#1a1a1a" stroke-width="1.5"/>
<line x1="389.49" y1="346.70" x2="398.49" y2="346.70" stroke="#1a1a1a" stroke-width="2.0"/>
<line x1="409.04" y1="306.60" x2="409.04" y2="303.00" stroke="#1a1a1a" stroke-width="1.5"/>
<line x1="404.54" y1="303.00" x2="413.54" y2="303.00" stroke="#1a1a1a" stroke-width="2.0"/>
<line x1="409.04" y1="320.60" x2="409.04" y2="324.70" stroke="#1a1a1a" stroke-width="1.5"/>
<line x1="404.54" y1="324.70" x2="413.54" y2="324.70" stroke="#1a1a1a" stroke-width="2.0"/>
<line x1="424.10" y1="322.60" x2="424.10" y2="315.60" stroke="#1a1a1a" stroke-width="1.5"/>
<line x1="419.60" y1="315.60" x2="428.60" y2="315.60" stroke="#1a1a1a" stroke-width="2.0"/>
<line x1="424.10" y1="336.60" x2="424.10" y2="344.40" stroke="#1a1a1a" stroke-width="1.5"/>
<line x1="419.60" y1="344.40" x2="428.60" y2="344.40" stroke="#1a1a1a" stroke-width="2.0"/>
<line x1="439.16" y1="314.30" x2="439.16" y2="308.50" stroke="#1a1a1a" stroke-width="1.5"/>
<line x1="434.66" y1="308.50" x2="443.66" y2="308.50" stroke="#1a1a1a" stroke-width="2.0"/>
<line x1="439.16" y1="328.30" x2="439.16" y2="332.90" stroke="#1a1a1a" stroke-width="1.5"/>
<line x1="434.66" y1="332.90" x2="443.66" y2="332.90" stroke="#1a1a1a" stroke-width="2.0"/>
<line x1="454.21" y1="304.70" x2="454.21" y2="302.10" stroke="#1a1a1a" stroke-width="1.5"/>
<line x1="449.71" y1="302.10" x2="458.71" y2="302.10" stroke="#1a1a1a" stroke-width="2.0"/>
<line x1="454.21" y1="318.70" x2="454.21" y2="321.30" stroke="#1a1a1a" stroke-width="1.5"/>
<line x1="449.71" y1="321.30" x2="458.71" y2="321.30" stroke="#1a1a1a" stroke-width="2.0"/>
<line x1="469.27" y1="313.40" x2="469.27" y2="307.00" stroke="#1a1a1a" stroke-width="1.5"/>
<line x1="464.77" y1="307.00" x2="473.77" y2="307.00" stroke="#1a1a1a" stroke-width="2.0"/>
<line x1="469.27" y1="327.40" x2="469.27" y2="332.70" stroke="#1a1a1a" stroke-width="1.5"/>
<line x1="464.77" y1="332.70" x2="473.77" y2="332.70" stroke="#1a1a1a" stroke-width="2.0"/>
<line x1="484.33" y1="314.80" x2="484.33" y2="302.60" stroke="#1a1a1a" stroke-width="1.5"/>
<line x1="479.83" y1="302.60" x2="488.83" y2="302.60" stroke="#1a1a1a" stroke-width="2.0"/>
<line x1="484.33" y1="328.80" x2="484.33" y2="340.10" stroke="#1a1a1a" stroke-width="1.5"/>
<line x1="479.83" y1="340.10" x2="488.83" y2="340.10" stroke="#1a1a1a" stroke-width="2.0"/>
<line x1="499.38" y1="307.70" x2="499.38" y2="301.60" stroke="#1a1a1a" stroke-width="1.5"/>
<line x1="494.88" y1="301.60" x2="503.88" y2="301.60" stroke="#1a1a1a" stroke-width="2.0"/>
<line x1="499.38" y1="321.70" x2="499.38" y2="326.60" stroke="#1a1a1a" stroke-width="1.5"/>
<line x1="494.88" y1="326.60" x2="503.88" y2="326.60" stroke="#1a1a1a" stroke-width="2.0"/>
<circle cx="333.76" cy="367.20" r="3.50" fill="#fff" stroke="#111" stroke-width="1.9"/>
<circle cx="348.81" cy="344.40" r="3.50" fill="#fff" stroke="#111" stroke-width="1.9"/>
<circle cx="363.87" cy="337.70" r="3.50" fill="#fff" stroke="#111" stroke-width="1.9"/>
<circle cx="378.93" cy="339.00" r="3.50" fill="#fff" stroke="#111" stroke-width="1.9"/>
<circle cx="393.99" cy="333.80" r="3.50" fill="#fff" stroke="#111" stroke-width="1.9"/>
<circle cx="409.04" cy="313.60" r="3.50" fill="#fff" stroke="#111" stroke-width="1.9"/>
<circle cx="424.10" cy="329.60" r="3.50" fill="#fff" stroke="#111" stroke-width="1.9"/>
<circle cx="439.16" cy="321.30" r="3.50" fill="#fff" stroke="#111" stroke-width="1.9"/>
<circle cx="454.21" cy="311.70" r="3.50" fill="#fff" stroke="#111" stroke-width="1.9"/>
<circle cx="469.27" cy="320.40" r="3.50" fill="#fff" stroke="#111" stroke-width="1.9"/>
<circle cx="484.33" cy="321.80" r="3.50" fill="#fff" stroke="#111" stroke-width="1.9"/>
<circle cx="499.38" cy="314.70" r="3.50" fill="#fff" stroke="#111" stroke-width="1.9"/>
<polyline points="318.70,430.00 333.76,412.00 348.81,425.50 363.87,422.70 378.93,419.40 393.99,429.00 409.04,413.20 424.10,419.80 439.16,407.10 454.21,402.80 469.27,402.80 484.33,412.20 499.38,413.40" fill="none" stroke="#262626" stroke-width="3.2" stroke-linejoin="miter"/>
<rect x="314.20" y="425.50" width="9.0" height="9.0" fill="#2e2e2e"/>
<rect x="329.26" y="407.50" width="9.0" height="9.0" fill="#2e2e2e"/>
<rect x="344.31" y="421.00" width="9.0" height="9.0" fill="#2e2e2e"/>
<rect x="359.37" y="418.20" width="9.0" height="9.0" fill="#2e2e2e"/>
<rect x="374.43" y="414.90" width="9.0" height="9.0" fill="#2e2e2e"/>
<rect x="389.49" y="424.50" width="9.0" height="9.0" fill="#2e2e2e"/>
<rect x="404.54" y="408.70" width="9.0" height="9.0" fill="#2e2e2e"/>
<rect x="419.60" y="415.30" width="9.0" height="9.0" fill="#2e2e2e"/>
<rect x="434.66" y="402.60" width="9.0" height="9.0" fill="#2e2e2e"/>
<rect x="449.71" y="398.30" width="9.0" height="9.0" fill="#2e2e2e"/>
<rect x="464.77" y="398.30" width="9.0" height="9.0" fill="#2e2e2e"/>
<rect x="479.83" y="407.70" width="9.0" height="9.0" fill="#2e2e2e"/>
<rect x="494.88" y="408.90" width="9.0" height="9.0" fill="#2e2e2e"/>
<text x="0.8" y="18.8" style="font-family:'Liberation Sans',sans-serif;font-weight:bold" font-size="25">A</text>
<text x="-0.1" y="271.1" style="font-family:'Liberation Sans',sans-serif;font-weight:bold" font-size="24">B</text>
<text x="37.90" y="39.80" font-size="16" text-anchor="end">100</text>
<text x="37.90" y="75.40" font-size="16" text-anchor="end">75</text>
<text x="37.90" y="111.90" font-size="16" text-anchor="end">50</text>
<text x="37.90" y="148.20" font-size="16" text-anchor="end">25</text>
<text x="37.90" y="184.40" font-size="16" text-anchor="end">0</text>
<text x="49.00" y="202.30" font-size="16" text-anchor="middle">0</text>
<text x="76.43" y="202.30" font-size="16" text-anchor="middle">15</text>
<text x="103.86" y="202.30" font-size="16" text-anchor="middle">30</text>
<text x="131.29" y="202.30" font-size="16" text-anchor="middle">45</text>
<text x="158.72" y="202.30" font-size="16" text-anchor="middle">60</text>
<text x="186.15" y="202.30" font-size="16" text-anchor="middle">75</text>
<text x="213.58" y="202.30" font-size="16" text-anchor="middle">90</text>
<text x="241.01" y="202.30" font-size="16" text-anchor="middle">105</text>
<text x="87.80" y="220.70" font-size="16" text-anchor="start" textLength="142.6" lengthAdjust="spacingAndGlyphs">DAYS AFTER BMT</text>
<text x="100.50" y="239.10" font-size="16" text-anchor="start" textLength="52.4" lengthAdjust="spacingAndGlyphs">B10.BR</text>
<path d="M159.7 233.4H172.2M167.6 229.5L172.6 233.4L167.6 237.3" fill="none" stroke="#111" stroke-width="1.8" stroke-linejoin="miter"/>
<text x="174.80" y="239.10" font-size="16" text-anchor="start" textLength="33.6" lengthAdjust="spacingAndGlyphs">CBA</text>
<text transform="translate(13.6,157.4) rotate(-90)" font-size="15.5" textLength="95.6" lengthAdjust="spacingAndGlyphs" stroke="#111" stroke-width="0.45">% SURVIVAL</text>
<text x="307.60" y="184.30" font-size="16" text-anchor="end">0</text>
<text x="307.60" y="160.05" font-size="16" text-anchor="end">1</text>
<text x="307.60" y="135.80" font-size="16" text-anchor="end">2</text>
<text x="307.60" y="111.55" font-size="16" text-anchor="end">3</text>
<text x="307.60" y="87.30" font-size="16" text-anchor="end">4</text>
<text x="307.60" y="63.05" font-size="16" text-anchor="end">5</text>
<text x="307.60" y="38.80" font-size="16" text-anchor="end">6</text>
<text x="318.50" y="202.10" font-size="16" text-anchor="middle">0</text>
<text x="382.93" y="202.10" font-size="16" text-anchor="middle">30</text>
<text x="447.36" y="202.10" font-size="16" text-anchor="middle">60</text>
<text x="511.79" y="202.10" font-size="16" text-anchor="middle">90</text>
<text x="355.70" y="219.70" font-size="16" text-anchor="start" textLength="142.3" lengthAdjust="spacingAndGlyphs">DAYS AFTER BMT</text>
<text x="372.80" y="239.00" font-size="16" text-anchor="start" textLength="53.6" lengthAdjust="spacingAndGlyphs">B10.BR</text>
<path d="M431.8 233.4H444.1M439.5 229.5L444.5 233.4L439.5 237.3" fill="none" stroke="#111" stroke-width="1.8" stroke-linejoin="miter"/>
<text x="445.40" y="239.00" font-size="16" text-anchor="start" textLength="33.6" lengthAdjust="spacingAndGlyphs">CBA</text>
<text transform="translate(286.1,197.6) rotate(-90)" font-size="16" textLength="177.2" lengthAdjust="spacingAndGlyphs" stroke="#111" stroke-width="0.45">CLINICAL GVHD SCORE</text>
<text x="37.90" y="433.20" font-size="16" text-anchor="end">0</text>
<text x="37.90" y="397.00" font-size="16" text-anchor="end">25</text>
<text x="37.90" y="360.80" font-size="16" text-anchor="end">50</text>
<text x="37.90" y="324.60" font-size="16" text-anchor="end">75</text>
<text x="37.90" y="288.40" font-size="16" text-anchor="end">100</text>
<text x="49.70" y="451.60" font-size="16" text-anchor="middle">0</text>
<text x="97.85" y="451.60" font-size="16" text-anchor="middle">25</text>
<text x="146.00" y="451.60" font-size="16" text-anchor="middle">50</text>
<text x="194.15" y="451.60" font-size="16" text-anchor="middle">75</text>
<text x="242.30" y="451.60" font-size="16" text-anchor="middle">100</text>
<text x="80.00" y="469.20" font-size="16" text-anchor="start" textLength="142.2" lengthAdjust="spacingAndGlyphs">DAYS AFTER BMT</text>
<text x="100.60" y="486.20" font-size="16" text-anchor="start" textLength="52.3" lengthAdjust="spacingAndGlyphs">B10.BR</text>
<path d="M159.2 480.2H172.4M167.8 476.3L172.8 480.2L167.8 484.09999999999997" fill="none" stroke="#111" stroke-width="1.8" stroke-linejoin="miter"/>
<text x="174.60" y="486.20" font-size="16" text-anchor="start" textLength="19.9" lengthAdjust="spacingAndGlyphs">B6</text>
<text transform="translate(13,406.3) rotate(-90)" font-size="15.5" textLength="95.6" lengthAdjust="spacingAndGlyphs" stroke="#111" stroke-width="0.45">% SURVIVAL</text>
<text x="307.60" y="434.40" font-size="16" text-anchor="end">0</text>
<text x="307.60" y="405.80" font-size="16" text-anchor="end">1</text>
<text x="307.60" y="376.40" font-size="16" text-anchor="end">2</text>
<text x="307.60" y="348.70" font-size="16" text-anchor="end">3</text>
<text x="307.60" y="319.00" font-size="16" text-anchor="end">4</text>
<text x="307.60" y="289.40" font-size="16" text-anchor="end">5</text>
<text x="318.70" y="452.00" font-size="16" text-anchor="middle">0</text>
<text x="383.23" y="452.00" font-size="16" text-anchor="middle">30</text>
<text x="447.76" y="452.00" font-size="16" text-anchor="middle">60</text>
<text x="512.29" y="452.00" font-size="16" text-anchor="middle">90</text>
<text x="349.00" y="469.20" font-size="16" text-anchor="start" textLength="141.8" lengthAdjust="spacingAndGlyphs">DAYS AFTER BMT</text>
<text x="371.30" y="486.20" font-size="16" text-anchor="start" textLength="52.3" lengthAdjust="spacingAndGlyphs">B10.BR</text>
<path d="M430.6 480.2H443.8M439.2 476.3L444.2 480.2L439.2 484.09999999999997" fill="none" stroke="#111" stroke-width="1.8" stroke-linejoin="miter"/>
<text x="445.60" y="486.20" font-size="16" text-anchor="start" textLength="19.9" lengthAdjust="spacingAndGlyphs">B6</text>
<text transform="translate(286.7,451) rotate(-90)" font-size="16" textLength="177.2" lengthAdjust="spacingAndGlyphs" stroke="#111" stroke-width="0.45">CLINICAL GVHD SCORE</text>
<polyline points="91.10,520.30 144.60,520.30" fill="none" stroke="#262626" stroke-width="3.2" stroke-linejoin="miter"/>
<rect x="114.20" y="516.00" width="9.2" height="9.2" fill="#2e2e2e"/>
<text x="161.40" y="524.50" font-size="16" text-anchor="start" textLength="80.6" lengthAdjust="spacingAndGlyphs">B10.BR BM</text>
<polyline points="91.10,559.50 144.60,559.50" fill="none" stroke="#6a6a6a" stroke-width="3.0" stroke-linejoin="miter"/>
<polyline points="91.10,559.50 144.60,559.50" fill="none" stroke="#888" stroke-width="1.2" stroke-linejoin="miter"/>
<rect x="115.05" y="556.35" width="6.90" height="6.90" fill="#fff" stroke="#111" stroke-width="1.9"/>
<text x="161.20" y="563.30" font-size="16" text-anchor="start" textLength="56" lengthAdjust="spacingAndGlyphs">+ T cells</text>
<polyline points="265.10,520.30 318.80,520.30" fill="none" stroke="#333" stroke-width="3.2" stroke-linejoin="miter"/>
<polyline points="265.10,520.30 318.80,520.30" fill="none" stroke="#858585" stroke-width="1.3" stroke-linejoin="miter"/>
<circle cx="292.50" cy="520.50" r="3.65" fill="#fff" stroke="#111" stroke-width="1.9"/>
<text x="334.80" y="524.20" font-size="16" text-anchor="start" textLength="106" lengthAdjust="spacingAndGlyphs">+ α4β7+ T cells</text>
<polyline points="265.10,558.00 318.80,558.00" fill="none" stroke="#363636" stroke-width="3.3" stroke-linejoin="miter"/>
<polyline points="265.10,558.00 318.80,558.00" fill="none" stroke="#626262" stroke-width="1.4" stroke-linejoin="miter"/>
<path d="M292.50 553.80L296.50 558.40L292.50 563.00L288.50 558.40Z" fill="#4c4c4c" stroke="#1c1c1c" stroke-width="1.6" stroke-linejoin="round"/>
<circle cx="292.50" cy="558.40" r="1.4" fill="#858585"/>
<text x="334.80" y="561.60" font-size="16" text-anchor="start" textLength="104.8" lengthAdjust="spacingAndGlyphs">+ α4β7 - T cells</text>
</svg>
</body></html>
